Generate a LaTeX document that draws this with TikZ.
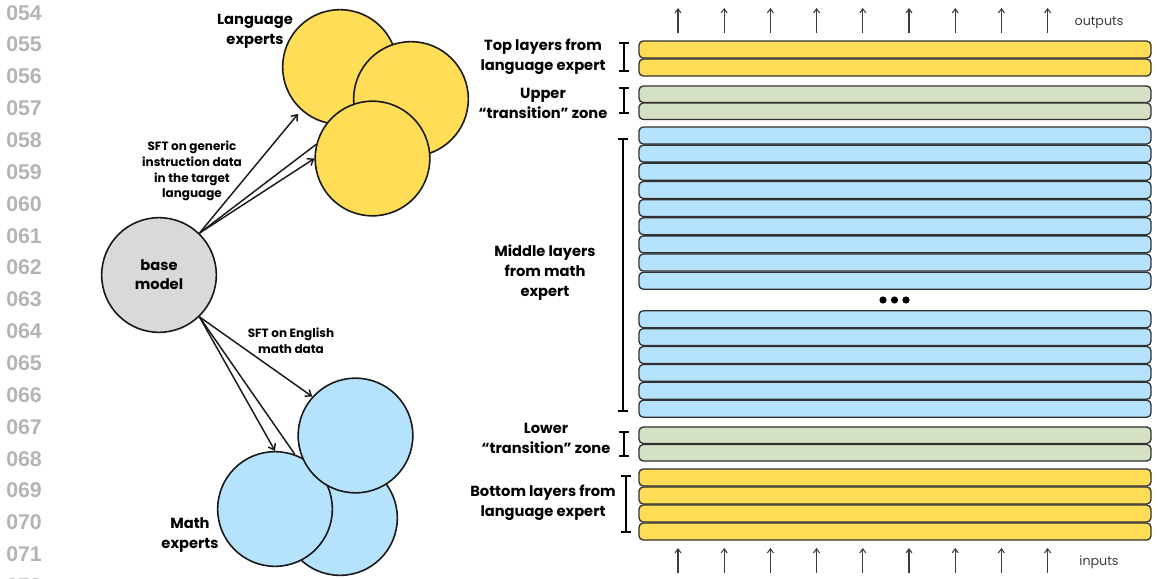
\documentclass[tikz,border=0pt]{standalone}
\usepackage{fontspec}
\setmainfont{Poppins}
\newfontfamily\numfont{Liberation Sans}
\usetikzlibrary{arrows.meta}
\definecolor{ylw}{RGB}{255,221,87}
\definecolor{grn}{RGB}{213,225,196}
\definecolor{blu}{RGB}{181,226,252}
\definecolor{gry}{RGB}{217,217,217}
\definecolor{numgray}{RGB}{180,180,180}
\definecolor{ink}{RGB}{25,25,25}
\begin{document}
\begin{tikzpicture}[x=0.75pt,y=-0.75pt,
  lineno/.style={font=\numfont\bfseries\fontsize{16}{16}\selectfont, text=numgray, anchor=west, inner sep=0pt},
  expert/.style={circle, draw=ink, line width=1.2pt, minimum size=86pt, inner sep=0pt},
  lbl/.style={font=\bfseries\fontsize{11}{15}\selectfont, align=center, inner sep=0pt},
  small/.style={font=\bfseries\fontsize{9}{11.8}\selectfont, align=center, inner sep=0pt},
  iolbl/.style={font=\fontsize{9.5}{11}\selectfont, text=ink!85, inner sep=0pt},
  flow/.style={draw=ink, line width=1.1pt, -{Straight Barb[length=4pt,width=6pt]}},
  plain/.style={draw=ink, line width=1.1pt},
  io/.style={draw=ink!85, line width=0.8pt, -{Straight Barb[length=3pt,width=4.5pt]}},
  bar/.style={draw=ink!90, line width=1pt, rounded corners=3.2pt},
  ibeam/.style={draw=black, line width=2pt},
]
\useasboundingbox (0,0) rectangle (1158,579);

% line numbers
\foreach \n [count=\k from 0] in {054,055,056,057,058,059,060,061,062,063,064,065,066,067,068,069,070,071,072}
  \node[lineno] (ln\n) at (6,12.8+31.85*\k) {\n};

% language experts
\node[expert, fill=ylw] (lA) at (340,67) {};
\node[expert, fill=ylw] (lB) at (411,99) {};
\node[expert, fill=ylw] (lC) at (372.5,158.5) {};
\node[lbl] (langlbl) at (255,31) {Language\\experts};

% math experts
\node[expert, fill=blu] (mF) at (340,518) {};
\node[expert, fill=blu] (mE) at (275,509) {};
\node[expert, fill=blu] (mD) at (355.5,435.5) {};
\node[lbl] (mathlbl) at (190,535) {Math\\experts};

% base model
\node[expert, fill=gry] (base) at (159,275) {};
\node[lbl, font=\bfseries\fontsize{11}{14.3}\selectfont] (basetxt) at (159,275) {base\\model};

% connectors
\draw[flow, shorten >=3.5pt] (base.46) -- (lA.228);
\draw[plain] (base.46) -- (lC.166);
\draw[flow] (base.46) -- (lC.180);
\draw[flow] (base.314) -- (mD.138);
\draw[flow] (base.314) -- (mE.90);
\draw[plain] (base.314) -- (mE.70);

\node[small] (sft1) at (192,171) {SFT on generic\\instruction data\\in the target\\language};
\node[small] (sft2) at (291,341) {SFT on English\\math data};

% layer stack
\foreach \y in {41,59} \draw[bar, fill=ylw] (639,\y) rectangle ++(512,17);
\foreach \y in {86,103} \draw[bar, fill=grn] (639,\y) rectangle ++(512,16.5);
\foreach \i in {0,...,8} \draw[bar, fill=blu] (639,127+18.15*\i) rectangle ++(512,17);
\foreach \i in {0,...,5} \draw[bar, fill=blu] (639,310.7+17.9*\i) rectangle ++(512,17);
\foreach \y in {427,444.5} \draw[bar, fill=grn] (639,\y) rectangle ++(512,16.5);
\foreach \y in {469,487,505,523} \draw[bar, fill=ylw] (639,\y) rectangle ++(512,17);

% ellipsis dots
\foreach \x in {883,894.5,906} \fill[black] (\x,300) circle (2.7pt);

% brackets
\foreach \x/\a/\b in {624/43/71, 624/88/113, 623/139/411, 624/432/456, 626/476/532}{
  \draw[ibeam] (\x,\a) -- (\x,\b);
  \draw[ibeam] (\x-5,\a) -- (\x+5,\a);
  \draw[ibeam] (\x-5,\b) -- (\x+5,\b);
}

% stack labels
\node[lbl] (toplbl) at (543,57) {Top layers from\\language expert};
\node[lbl] (uplbl) at (543,103) {Upper\\“transition” zone};
\node[lbl] (midlbl) at (545,273) {Middle layers\\from math\\expert};
\node[lbl] (lowlbl) at (546,438) {Lower\\“transition” zone};
\node[lbl] (botlbl) at (543,503) {Bottom layers from\\language expert};

% inputs / outputs arrows
\foreach \i in {0,...,8}{
  \pgfmathsetmacro\xx{678+46.2*\i}
  \coordinate (ot\i) at (\xx,33);
  \coordinate (oh\i) at (\xx,8);
  \draw[io] (ot\i) -- (oh\i);
  \coordinate (it\i) at (\xx,573);
  \coordinate (ih\i) at (\xx,548);
  \draw[io] (it\i) -- (ih\i);
}
\node[iolbl] (outlbl) at (1099,23) {outputs};
\node[iolbl] (inlbl) at (1099,562) {inputs};
\end{tikzpicture}
\end{document}
